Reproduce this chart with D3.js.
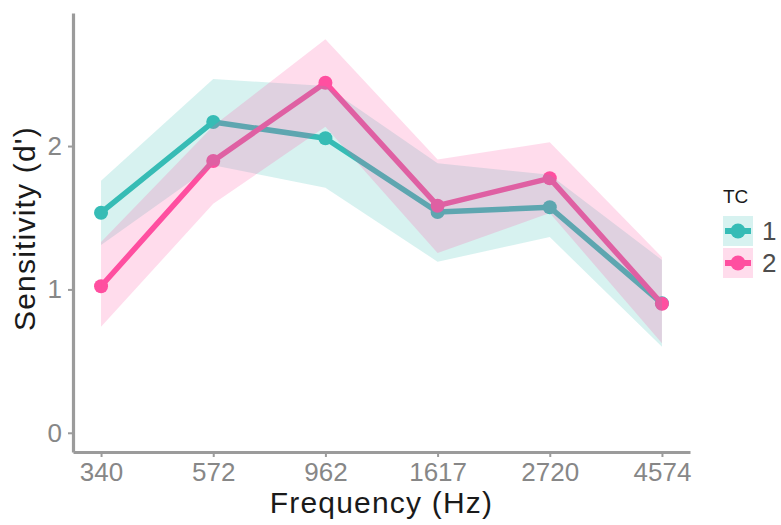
<!DOCTYPE html>
<html>
<head>
<meta charset="utf-8">
<script src="https://cdn.jsdelivr.net/npm/d3@7"></script>
<style>
  html, body { margin: 0; padding: 0; background: #fff; }
  svg { display: block; font-family: "Liberation Sans", Arial, Helvetica, sans-serif; }
</style>
</head>
<body>
<svg id="chart" width="781" height="525"></svg>
<script>
// ---- data ----
const frequencies = ["340", "572", "962", "1617", "2720", "4574"];
const groups = ["1", "2"];
const tc1Mean  = [1.535, 2.168, 2.054, 1.540, 1.573, 0.903];
const tc1Lower = [1.310, 1.866, 1.710, 1.193, 1.365, 0.600];
const tc1Upper = [1.758, 2.468, 2.418, 1.880, 1.800, 1.205];
const tc2Mean  = [1.022, 1.896, 2.442, 1.584, 1.775, 0.900];
const tc2Lower = [0.740, 1.597, 2.134, 1.254, 1.533, 0.625];
const tc2Upper = [1.330, 2.140, 2.745, 1.907, 2.026, 1.225];
const yTicks = [0, 1, 2];
const colors = ["#36BCB6", "#FF4FA0"];

const series = [
  { key: groups[0], mean: tc1Mean, lower: tc1Lower, upper: tc1Upper, color: colors[0] },
  { key: groups[1], mean: tc2Mean, lower: tc2Lower, upper: tc2Upper, color: colors[1] }
];

// ---- layout ----
const svg = d3.select("#chart");
const pLeft = 73, pRight = 690, pTop = 13, pBottom = 452;

const x = d3.scalePoint().domain(frequencies).range([pLeft, pRight]).padding(0.25);
const y = d3.scaleLinear().domain([-0.134, 2.928]).range([pBottom, pTop]);

const plot = svg.append("g");

// lines + points first
series.forEach(s => {
  const pts = frequencies.map((f, i) => [x(f), y(s.mean[i])]);
  plot.append("path")
    .attr("d", d3.line()(pts))
    .attr("fill", "none")
    .attr("stroke", s.color)
    .attr("stroke-width", 5.5)
    .attr("stroke-linejoin", "round");
  plot.selectAll(null).data(frequencies).enter().append("circle")
    .attr("cx", f => x(f))
    .attr("cy", (f, i) => y(s.mean[i]))
    .attr("r", 7)
    .attr("fill", s.color);
});

// ribbons on top (semi-transparent)
series.forEach(s => {
  const area = d3.area()
    .x((d, i) => x(frequencies[i]))
    .y0((d, i) => y(s.lower[i]))
    .y1((d, i) => y(s.upper[i]));
  plot.append("path")
    .attr("d", area(s.mean))
    .attr("fill", s.color)
    .attr("fill-opacity", 0.2);
});

// ---- axes ----
const axisColor = "#9B9B9B";
const tickTextColor = "#878787";

const xAxis = svg.append("g")
  .attr("transform", `translate(0,${pBottom})`)
  .call(d3.axisBottom(x).tickSize(5).tickSizeOuter(0).tickPadding(6));
const yAxis = svg.append("g")
  .attr("transform", `translate(${pLeft},0)`)
  .call(d3.axisLeft(y).tickValues(yTicks).tickFormat(d3.format("d")).tickSize(5).tickSizeOuter(0).tickPadding(6));

[xAxis, yAxis].forEach(a => {
  a.select(".domain").attr("stroke", axisColor).attr("stroke-width", 3.2);
  a.selectAll(".tick line").attr("stroke", axisColor).attr("stroke-width", 2);
  a.selectAll(".tick text")
    .attr("fill", tickTextColor)
    .style("font-size", "26px")
    .style("font-family", "'Liberation Sans', Arial, sans-serif");
});

// axis titles
svg.append("text")
  .attr("x", (pLeft + pRight) / 2)
  .attr("y", 513)
  .attr("text-anchor", "middle")
  .attr("fill", "#1a1a1a")
  .style("font-size", "30px")
  .style("letter-spacing", "1.2px")
  .text("Frequency (Hz)");

svg.append("text")
  .attr("transform", `translate(35,${(pTop + pBottom) / 2 - 4}) rotate(-90)`)
  .attr("text-anchor", "middle")
  .attr("fill", "#1a1a1a")
  .style("font-size", "30px")
  .style("letter-spacing", "1.2px")
  .text("Sensitivity (d')");

// ---- legend ----
const legend = svg.append("g").attr("transform", "translate(723,0)");
legend.append("text")
  .attr("x", 0).attr("y", 203)
  .attr("fill", "#1a1a1a")
  .style("font-size", "19px")
  .text("TC");

series.forEach((s, i) => {
  const y0 = 216 + i * 32;
  const g = legend.append("g").attr("transform", `translate(0,${y0})`);
  g.append("rect")
    .attr("width", 30).attr("height", 30)
    .attr("fill", s.color).attr("fill-opacity", 0.2);
  g.append("line")
    .attr("x1", 2).attr("x2", 28).attr("y1", 15).attr("y2", 15)
    .attr("stroke", s.color).attr("stroke-width", 6);
  g.append("circle")
    .attr("cx", 15).attr("cy", 15).attr("r", 7.5)
    .attr("fill", s.color);
  g.append("text")
    .attr("x", 39).attr("y", 15)
    .attr("dy", "0.36em")
    .attr("fill", "#4D4D4D")
    .style("font-size", "26px")
    .text(s.key);
});
</script>
</body>
</html>
